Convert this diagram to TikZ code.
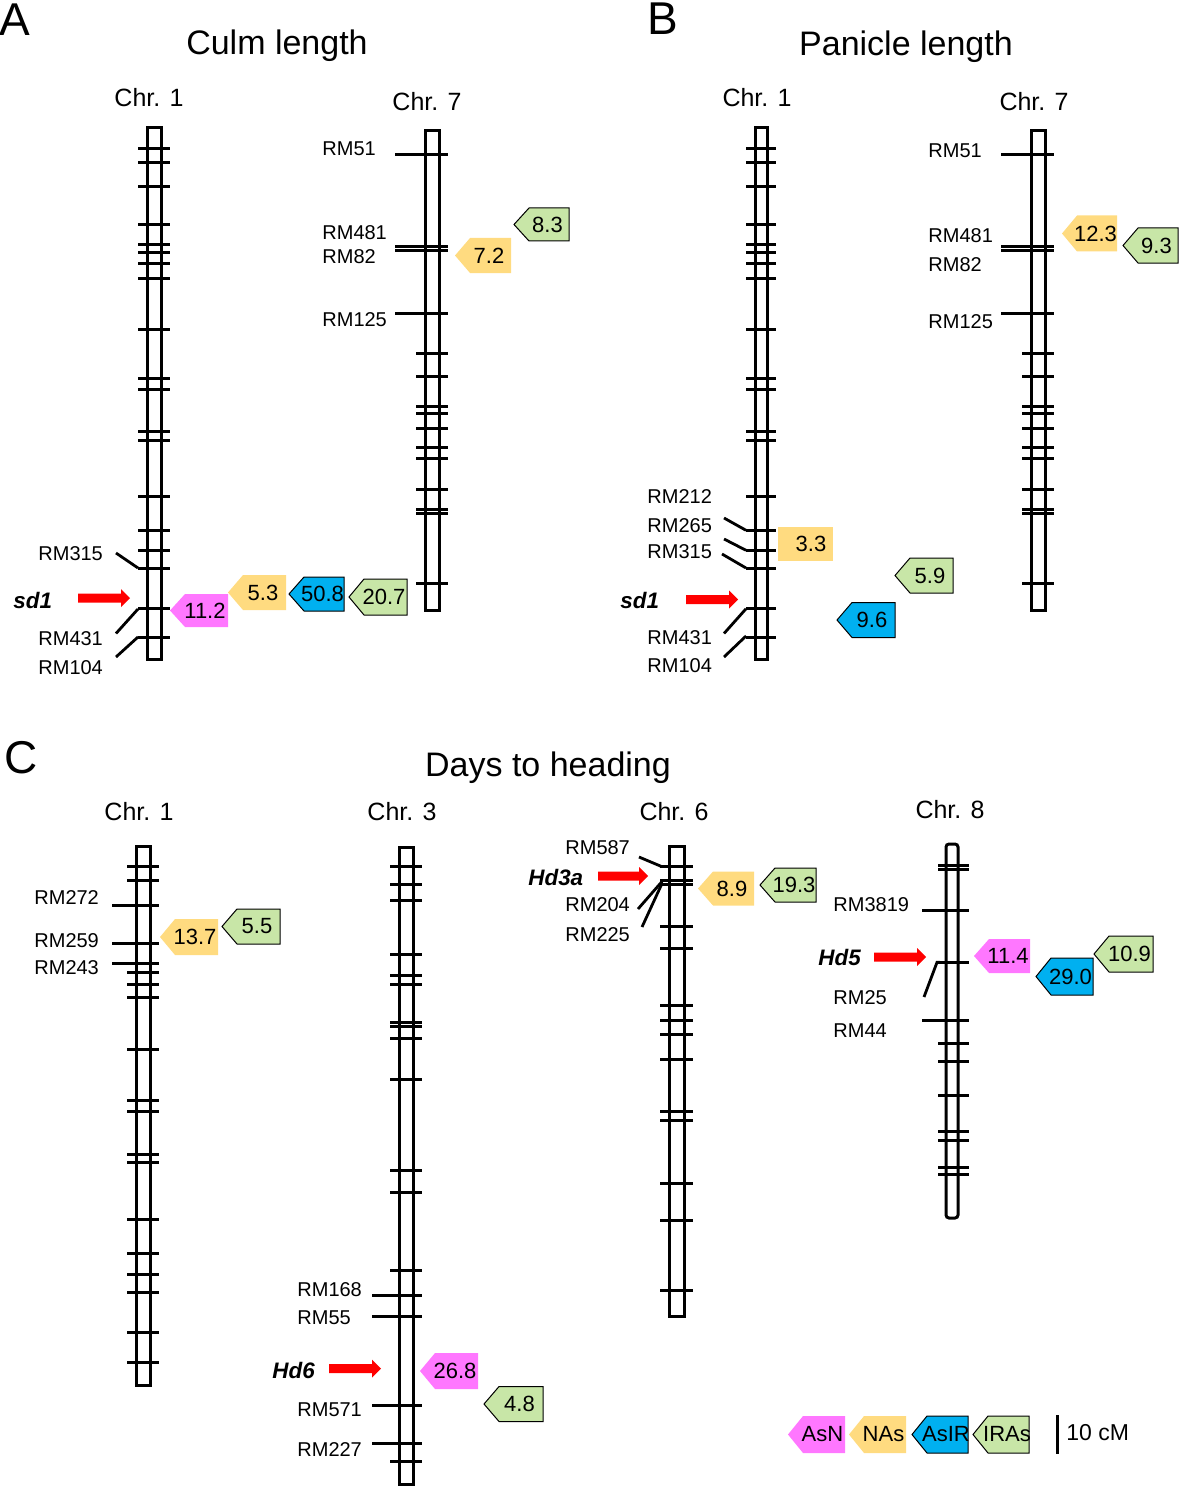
\documentclass[tikz,border=0pt]{standalone}
\usepackage{fontspec}
\setmainfont{Liberation Sans}
\definecolor{cmag}{RGB}{255,119,255}
\definecolor{cyel}{RGB}{255,219,128}
\definecolor{cblu}{RGB}{0,176,240}
\definecolor{cgrn}{RGB}{200,230,167}
\newcommand{\chromo}[5]{%
  \draw[chrline, fill=white] (#1,#3) rectangle (#2,#4);
  \foreach \t in {#5} \draw[chrline] (#1-9,\t) -- (#2+9,\t);
}
\newcommand{\badge}[8]{%
  \filldraw[fill=#6, draw=#7, line width=0.5pt, line join=miter]
    (#2,#3) -- (#2+15,#3-#5) -- (#4,#3-#5) -- (#4,#3+#5) -- (#2+15,#3+#5) -- cycle;
  \node[numlbl] (#1) at ({(#2+15+#4)/2-1.5},#3) {#8};
}
\newcommand{\garrow}[3]{%
  \fill[red] (#1,#3-4.5) -- (#2-9,#3-4.5) -- (#2-9,#3-9) -- (#2,#3) -- (#2-9,#3+9) -- (#2-9,#3+4.5) -- (#1,#3+4.5) -- cycle;
}
\begin{document}
\begin{tikzpicture}[x=0.5pt,y=-0.5pt,
  chrline/.style={line width=1.5pt},
  lead/.style={line width=1.4pt},
  panel/.style={font=\fontsize{23}{24}\selectfont, inner sep=0pt},
  ttl/.style={font=\fontsize{17}{18}\selectfont, inner sep=0pt},
  chrlbl/.style={font=\fontsize{12.5}{13}\selectfont, inner sep=0pt},
  mk/.style={font=\fontsize{10}{11}\selectfont, inner sep=0pt, anchor=west},
  gene/.style={font=\fontsize{11.2}{12}\selectfont\bfseries\itshape, inner sep=0pt, anchor=west},
  numlbl/.style={font=\fontsize{11}{12}\selectfont, inner sep=0pt},
  leg/.style={font=\fontsize{10}{11}\selectfont, inner sep=0pt}]
\useasboundingbox (0,0) rectangle (1179,1487);

% ---------------- titles
\node[panel] (pA) at (15,20) {A};
\node[panel] (pB) at (663,19) {B};
\node[panel] (pC) at (21,758) {C};
\node[ttl, anchor=base] (tA) at (277,55) {Culm length};
\node[ttl, anchor=base] (tB) at (906,56) {Panicle length};
\node[ttl, anchor=base] (tC) at (548,776) {Days to heading};
\node[chrlbl] (cA1) at (149,98) {Chr. 1};
\node[chrlbl] (cA7) at (427,102) {Chr. 7};
\node[chrlbl] (cB1) at (757,98) {Chr. 1};
\node[chrlbl] (cB7) at (1034,102) {Chr. 7};
\node[chrlbl] (cC1) at (139,812) {Chr. 1};
\node[chrlbl] (cC3) at (402,812) {Chr. 3};
\node[chrlbl] (cC6) at (674,812) {Chr. 6};
\node[chrlbl] (cC8) at (950,810) {Chr. 8};

% ---------------- Panel A, Chr. 1
\chromo{147}{161}{128}{659}{148.8,162.2,187,225,244.3,252.8,263.9,278.3,329.4,378.2,389.3,431.9,440.4,496.6,530.3,550.3,568,608.8,637.2}
\draw[lead] (116,553) -- (138,568);
\draw[lead] (138,609) -- (116,633.5);
\draw[lead] (138,637) -- (116,657);
\node[mk] (a315) at (38,554) {RM315};
\node[mk] (a431) at (38,639) {RM431};
\node[mk] (a104) at (38,668) {RM104};
\node[gene] (asd1) at (13,600) {sd1};
\garrow{78}{130}{598}
\badge{bA1}{170}{610.5}{228}{16.5}{cmag}{none}{11.2}
\badge{bA2}{228}{592.5}{286}{17.5}{cyel}{none}{5.3}
\badge{bA3}{289}{594}{344}{17}{cblu}{black}{50.8}
\badge{bA4}{349}{597}{407}{18}{cgrn}{black}{20.7}

% ---------------- Panel A, Chr. 7
\chromo{425}{439}{130.5}{610.5}{154.8,246.4,250.4,313.6,353.5,376.1,406.9,413.7,428.9,447.1,458.3,489.7,509.7,513,583.3}
\foreach \t in {154.8,246.4,250.4,313.6} \draw[chrline] (395,\t) -- (416,\t);
\node[mk] (a51) at (322,149) {RM51};
\node[mk] (a481) at (322,233) {RM481};
\node[mk] (a82) at (322,257) {RM82};
\node[mk] (a125) at (322,320) {RM125};
\badge{bA5}{514}{224.5}{569}{16.5}{cgrn}{black}{8.3}
\badge{bA6}{455}{255.5}{511}{17.5}{cyel}{none}{7.2}

% ---------------- Panel B, Chr. 1
\chromo{755}{767}{128}{659}{148.8,162.2,187,225,244.3,252.8,263.9,278.3,329.4,378.2,389.3,431.9,440.4,496.6,530.3,550.3,568,608.8,637.2}
\draw[lead] (724,518) -- (746,530.3);
\draw[lead] (724,539) -- (746,550.3);
\draw[lead] (722,554) -- (746,568);
\draw[lead] (746,608.8) -- (724,633.5);
\draw[lead] (746,636) -- (724,657);
\node[mk] (b212) at (647,496.6) {RM212};
\node[mk] (b265) at (647,525.5) {RM265};
\node[mk] (b315) at (647,552) {RM315};
\node[mk] (b431) at (647,638) {RM431};
\node[mk] (b104) at (647,666) {RM104};
\node[gene] (bsd1) at (620,600) {sd1};
\garrow{686}{738}{599.5}
\fill[cyel] (778,527) rectangle (833,561);
\node[numlbl] (bB1) at (811,544) {3.3};
\badge{bB2}{895}{575.5}{953}{17.5}{cgrn}{black}{5.9}
\badge{bB3}{837}{620}{895}{17.5}{cblu}{black}{9.6}

% ---------------- Panel B, Chr. 7
\chromo{1031}{1045}{130.5}{610.5}{154.8,246.4,250.4,313.6,353.5,376.1,406.9,413.7,428.9,447.1,458.3,489.7,509.7,513,583.3}
\foreach \t in {154.8,246.4,250.4,313.6} \draw[chrline] (1001,\t) -- (1022,\t);
\node[mk] (b51) at (928,151) {RM51};
\node[mk] (b481) at (928,236) {RM481};
\node[mk] (b82) at (928,264.6) {RM82};
\node[mk] (b125) at (928,322) {RM125};
\badge{bB4}{1062}{233.5}{1117}{18}{cyel}{none}{12.3}
\badge{bB5}{1123}{245.5}{1178}{17.5}{cgrn}{black}{9.3}

% ---------------- Panel C, Chr. 1
\chromo{136}{150}{846}{1385}{866.4,880.2,905.6,943.8,963.8,972.9,984.5,997.9,1049.9,1100.1,1111,1154.6,1162.6,1219.7,1253.5,1274.2,1292.4,1332.7,1362.5}
\foreach \t in {905.6,943.8,963.8} \draw[chrline] (112,\t) -- (127,\t);
\node[mk] (c272) at (34,898) {RM272};
\node[mk] (c259) at (34,941) {RM259};
\node[mk] (c243) at (34,968) {RM243};
\badge{bC1}{160}{937}{218}{18}{cyel}{none}{13.7}
\badge{bC2}{222}{926.5}{280}{17.5}{cgrn}{black}{5.5}

% ---------------- Panel C, Chr. 3
\chromo{399}{413}{847}{1484}{866.9,884.5,900.4,954.9,975.8,984.2,1022.7,1026.9,1038.2,1079.7,1170.2,1192.4,1270,1295.9,1316.9,1405.3,1443.8,1461.9}
\foreach \t in {1295.9,1316.9,1405.3,1443.8} \draw[chrline] (372,\t) -- (390,\t);
\node[mk] (c168) at (297,1290) {RM168};
\node[mk] (c55) at (297,1318) {RM55};
\node[mk] (c571) at (297,1409.5) {RM571};
\node[mk] (c227) at (297,1449) {RM227};
\node[gene] (chd6) at (272,1370) {Hd6};
\garrow{329}{381}{1368.5}
\badge{bC3}{420}{1371}{478}{18}{cmag}{none}{26.8}
\badge{bC4}{484}{1404}{543}{17.5}{cgrn}{black}{4.8}

% ---------------- Panel C, Chr. 6
\chromo{669}{684}{846}{1316}{866.7,880.7,884,926,948.3,1005,1020.7,1034,1059.3,1111.7,1120.7,1183.3,1220,1290}
\draw[lead] (639,857) -- (662,866.7);
\draw[lead] (638,909) -- (662,881.5);
\draw[lead] (642,927) -- (662,883.5);
\node[mk] (c587) at (565,848) {RM587};
\node[mk] (c204) at (565,905) {RM204};
\node[mk] (c225) at (565,935) {RM225};
\node[gene] (chd3a) at (528,877) {Hd3a};
\garrow{598}{648}{876}
\badge{bC5}{698}{888.5}{754}{17}{cyel}{none}{8.9}
\badge{bC6}{760}{885}{816}{17}{cgrn}{black}{19.3}

% ---------------- Panel C, Chr. 8
\draw[chrline, fill=white, rounded corners=1.5pt] (946,844) rectangle (958,1218);
\foreach \t in {865.5,869,910,962.3,1020.7,1043.3,1061,1095.7,1131.7,1140.7,1167.7,1174.3} \draw[chrline] (938,\t) -- (969,\t);
\foreach \t in {910,1020.7} \draw[chrline] (922,\t) -- (938,\t);
\draw[lead] (924,997) -- (937,962.3) -- (940,962.3);
\node[mk] (c3819) at (833,905) {RM3819};
\node[mk] (c25) at (833,998) {RM25};
\node[mk] (c44) at (833,1031) {RM44};
\node[gene] (chd5) at (818,957) {Hd5};
\garrow{874}{926}{957}
\badge{bC7}{974}{956}{1030}{17}{cmag}{none}{11.4}
\badge{bC8}{1036}{976.5}{1093}{18.5}{cblu}{black}{29.0}
\badge{bC9}{1094}{954}{1153}{18}{cgrn}{black}{10.9}

% ---------------- legend
\badge{lg1}{788}{1434.5}{845}{18.5}{cmag}{none}{AsN}
\badge{lg2}{849}{1434.5}{906}{18.5}{cyel}{none}{NAs}
\badge{lg3}{912}{1434.5}{968}{18.5}{cblu}{black}{AsIR}
\badge{lg4}{973}{1434.5}{1029}{18.5}{cgrn}{black}{IRAs}
\draw[line width=1.5pt] (1057,1415) -- (1057,1454);
\node[font=\fontsize{11.5}{12}\selectfont, inner sep=0pt, anchor=west] (scl) at (1066,1433) {10 cM};
\end{tikzpicture}
\end{document}
